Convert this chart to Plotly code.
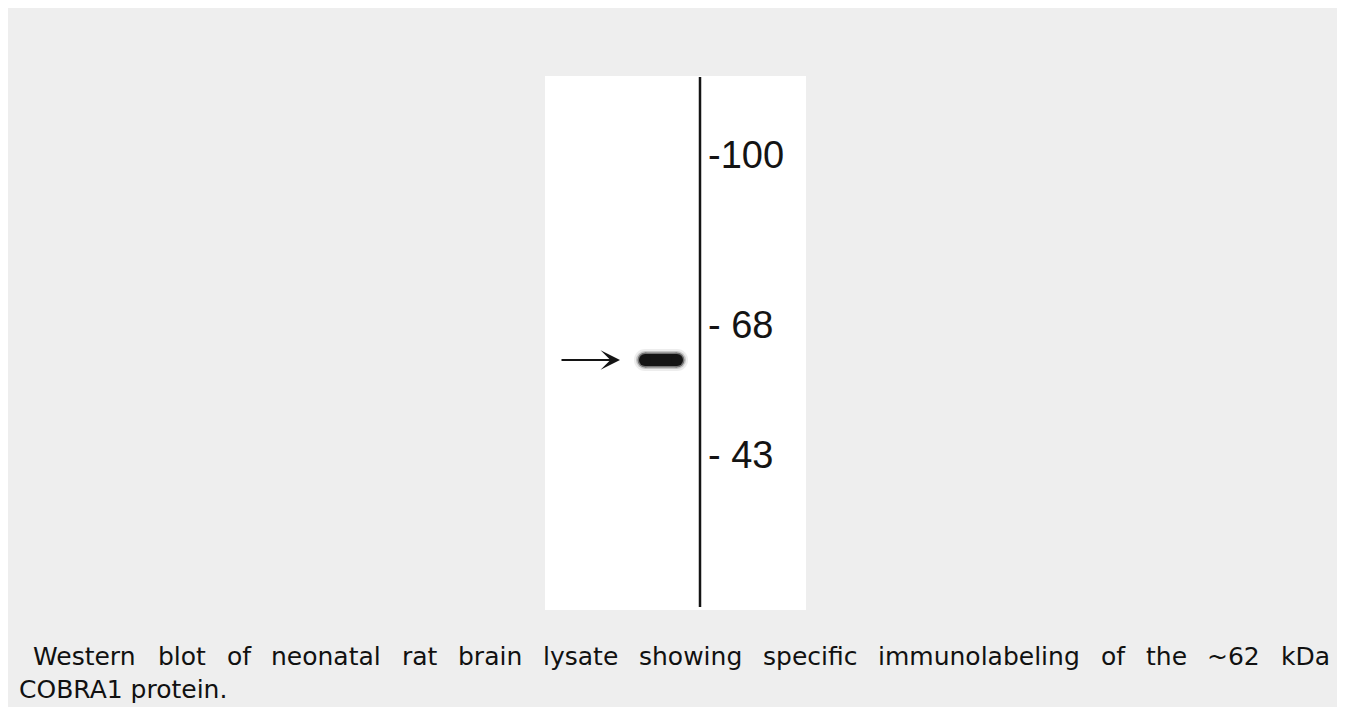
"""Western blot panel of neonatal rat brain lysate, drawn with Plotly."""

import plotly.graph_objects as go

# ---- data ---------------------------------------------------------------
lane_names = ["Neonatal rat brain"]
lane_x = [116]                      # lane centre on the membrane (px from left edge)

band_kda = [62]
band_migration = [284]              # px from top of membrane

marker_kda = [100, 68, 43]
marker_labels = ["-100", "- 68", "- 43"]
marker_migration = [79, 249, 379]   # px from top of membrane

divider_x = 155                     # ladder divider line position

caption_line1 = "Western blot of neonatal rat brain lysate showing specific immunolabeling of the ~62 kDa"
caption_line2 = "COBRA1 protein."

# ---- layout constants ---------------------------------------------------
OFF = 8                             # page body margin around the figure
W, H = 1345 - 2 * OFF, 707 - OFF
PANEL = dict(x0=545, x1=806, y0=76, y1=610)   # page px
MEM_W = PANEL["x1"] - PANEL["x0"]
MEM_H = PANEL["y1"] - PANEL["y0"]
BG = "#eeeeee"
INK = "#141414"

# left edge of each word of the (justified) first caption line, page px
word_left = [33, 158, 227, 271, 402, 458, 543, 639, 763, 878, 1101, 1146, 1207, 1281]


def px(x):
    return (x - OFF) / W


def py(y):
    return 1 - (y - OFF) / H


fig = go.Figure()

# blurred protein band: soft halo layers under a dark core
for width, alpha in [(22, 0.07), (18, 0.18), (15, 0.45), (12, 1.0)]:
    for lx, mig in zip(lane_x, band_migration):
        fig.add_trace(go.Scatter(
            x=[lx - 16, lx + 16],
            y=[mig, mig],
            mode="lines+markers",
            line=dict(color=INK, width=width),
            marker=dict(color=INK, size=width, line=dict(width=0)),
            opacity=alpha,
            hoverinfo="skip",
            showlegend=False,
        ))

# ladder divider line
fig.add_shape(type="line", xref="x", yref="y",
              x0=divider_x, x1=divider_x, y0=1, y1=MEM_H - 3,
              line=dict(color=INK, width=2.5))

# ladder labels
for label, mig in zip(marker_labels, marker_migration):
    fig.add_annotation(x=divider_x + 6, y=mig, xref="x", yref="y",
                       text=label, showarrow=False, xanchor="left", yanchor="middle",
                       font=dict(family="Liberation Sans, Arial", size=38, color=INK))

# arrow pointing to the band
for lx, mig in zip(lane_x, band_migration):
    fig.add_annotation(x=lx - 41, y=mig, ax=lx - 101, ay=mig,
                       xref="x", yref="y", axref="x", ayref="y",
                       text="", showarrow=True, arrowhead=3, arrowsize=1.8,
                       arrowwidth=1.8, arrowcolor=INK)

# caption, first line justified word by word
cap_font = dict(family="DejaVu Sans", size=25, color="#111111")
for word, left in zip(caption_line1.split(" "), word_left):
    fig.add_annotation(x=px(left - 2), y=py(656), xref="paper", yref="paper",
                       text=word, showarrow=False, xanchor="left", yanchor="middle",
                       font=cap_font)
fig.add_annotation(x=px(17), y=py(689), xref="paper", yref="paper",
                   text=caption_line2, showarrow=False, xanchor="left", yanchor="middle",
                   font=cap_font)

fig.update_layout(
    width=W, height=H,
    margin=dict(l=0, r=0, t=0, b=0),
    paper_bgcolor=BG,
    plot_bgcolor="white",
    xaxis=dict(domain=[px(PANEL["x0"]), px(PANEL["x1"])], range=[0, MEM_W],
               visible=False, fixedrange=True),
    yaxis=dict(domain=[py(PANEL["y1"]), py(PANEL["y0"])], range=[MEM_H, 0],
               visible=False, fixedrange=True),
)

fig.write_html("out.html")
